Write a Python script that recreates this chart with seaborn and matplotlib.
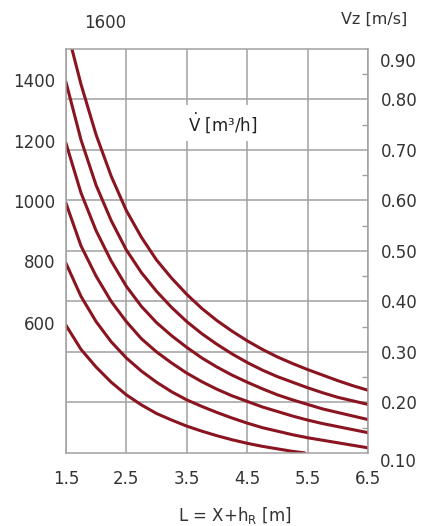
import numpy as np
import pandas as pd
import matplotlib
matplotlib.use('Agg')
import matplotlib.pyplot as plt
from matplotlib.ticker import FixedLocator
import seaborn as sns

sns.set_style('white')
plt.rcParams['font.family'] = ['DejaVu Sans']
plt.rcParams['mathtext.fontset'] = 'dejavusans'

# flow rate V [m3/h] -> air speed vz [m/s] over distance L [m]
flows = [1600, 1400, 1200, 1000, 800, 600]
L_mid = [1.5, 1.75, 2.0, 2.25, 2.5, 2.75, 3.0, 3.25, 3.5, 3.75, 4.0,
         4.25, 4.5, 4.75, 5.0, 5.25, 5.5, 5.75, 6.0, 6.25, 6.5]
L_1600 = [1.6] + L_mid[1:]
L_600 = L_mid[:16] + [5.45]
v1600 = [0.90, 0.83, 0.73, 0.648, 0.58, 0.527, 0.482, 0.446, 0.414, 0.386, 0.362,
         0.341, 0.322, 0.305, 0.29, 0.277, 0.265, 0.254, 0.243, 0.233, 0.224]
v1400 = [0.835, 0.72, 0.63, 0.56, 0.502, 0.457, 0.42, 0.388, 0.36, 0.336, 0.315,
         0.296, 0.279, 0.264, 0.251, 0.24, 0.229, 0.219, 0.21, 0.203, 0.196]
v1200 = [0.714, 0.615, 0.54, 0.48, 0.43, 0.39, 0.358, 0.332, 0.309, 0.288, 0.27,
         0.254, 0.24, 0.227, 0.215, 0.205, 0.196, 0.187, 0.18, 0.173, 0.166]
v1000 = [0.595, 0.51, 0.45, 0.40, 0.36, 0.326, 0.30, 0.278, 0.258, 0.241, 0.226,
         0.213, 0.202, 0.191, 0.182, 0.173, 0.165, 0.158, 0.152, 0.146, 0.14]
v800 = [0.476, 0.41, 0.36, 0.32, 0.288, 0.262, 0.24, 0.221, 0.205, 0.192, 0.18,
        0.169, 0.159, 0.15, 0.143, 0.136, 0.13, 0.125, 0.12, 0.115, 0.11]
v600 = [0.353, 0.305, 0.27, 0.24, 0.215, 0.195, 0.178, 0.165, 0.153, 0.143, 0.134,
        0.126, 0.119, 0.113, 0.108, 0.103, 0.10]

x_ticks = [1.5, 2.5, 3.5, 4.5, 5.5, 6.5]
y_ticks = [0.2, 0.3, 0.4, 0.5, 0.6, 0.7, 0.8]

curves = [(1600, L_1600, v1600), (1400, L_mid, v1400), (1200, L_mid, v1200),
          (1000, L_mid, v1000), (800, L_mid, v800), (600, L_600, v600)]
df = pd.concat([pd.DataFrame({'L': l, 'vz': v, 'flow': f}) for f, l, v in curves])

red = '#8a1420'
grid_c = '#a0a0a0'
txt_c = '#333333'

fig = plt.figure(figsize=(4.25, 5.26), dpi=100)
ax = fig.add_axes([0.155, 0.139, 0.711, 0.768])

sns.lineplot(data=df, x='L', y='vz', hue='flow', palette=[red] * 6, legend=False,
             estimator=None, sort=False, lw=2.2, ax=ax)
for ln in ax.lines:
    ln.set_solid_joinstyle('round')
    ln.set_solid_capstyle('round')

ax.set_xlim(1.5, 6.5)
ax.set_ylim(0.1, 0.9)
ax.set_xticks(x_ticks)
ax.set_xticklabels([f'{t:.1f}' for t in x_ticks])
ax.xaxis.set_minor_locator(FixedLocator([2, 3, 4, 5, 6]))
ax.yaxis.tick_right()
ax.set_yticks(y_ticks)
ax.set_yticklabels([f'{t:.2f}' for t in y_ticks])
ax.yaxis.set_minor_locator(FixedLocator([0.15, 0.25, 0.35, 0.45, 0.55, 0.65, 0.75, 0.85]))
ax.tick_params(axis='x', which='major', length=8, width=1.1, color=grid_c,
               labelsize=12, labelcolor=txt_c, pad=4)
ax.tick_params(axis='x', which='minor', direction='in', length=4, width=1, color=grid_c)
ax.tick_params(axis='y', which='major', length=0, labelsize=12, labelcolor=txt_c, pad=9)
ax.tick_params(axis='y', which='minor', direction='in', length=4, width=1, color=grid_c,
               right=True, left=False)
ax.grid(True, which='major', color=grid_c, lw=1.1)
ax.set_axisbelow(True)
for s in ax.spines.values():
    s.set_color(grid_c)
    s.set_linewidth(1.1)

ax.set_xlabel('L = X+h$_\\mathrm{R}$ [m]', fontsize=12, color=txt_c)
ax.xaxis.set_label_coords(0.56, -0.13)
ax.set_ylabel('')

# edge labels on the right axis
ax.text(1.04, -0.022, '0.10', transform=ax.transAxes, fontsize=12, color=txt_c,
        ha='left', va='center')
ax.text(1.04, 0.968, '0.90', transform=ax.transAxes, fontsize=12, color=txt_c,
        ha='left', va='center')
ax.text(1.02, 1.073, 'Vz [m/s]', transform=ax.transAxes, fontsize=11.5, color=txt_c,
        ha='center', va='center')

# flow labels at the start of each curve
tr = ax.get_yaxis_transform()
for f, l, v in curves[1:]:
    ax.text(-0.035, v[0], str(f), transform=tr, fontsize=12, color=txt_c,
            ha='right', va='center')
ax.text(0.13, 1.063, str(curves[0][0]), transform=ax.transAxes, fontsize=12,
        color=txt_c, ha='center', va='center')

ax.text(3.52, 0.753, '$\\dot{\\mathrm{V}}$ [m³/h]', fontsize=12, color='#222222',
        ha='left', va='center',
        bbox=dict(facecolor='white', edgecolor='none', pad=4))

fig.savefig('out.png', dpi=100)
